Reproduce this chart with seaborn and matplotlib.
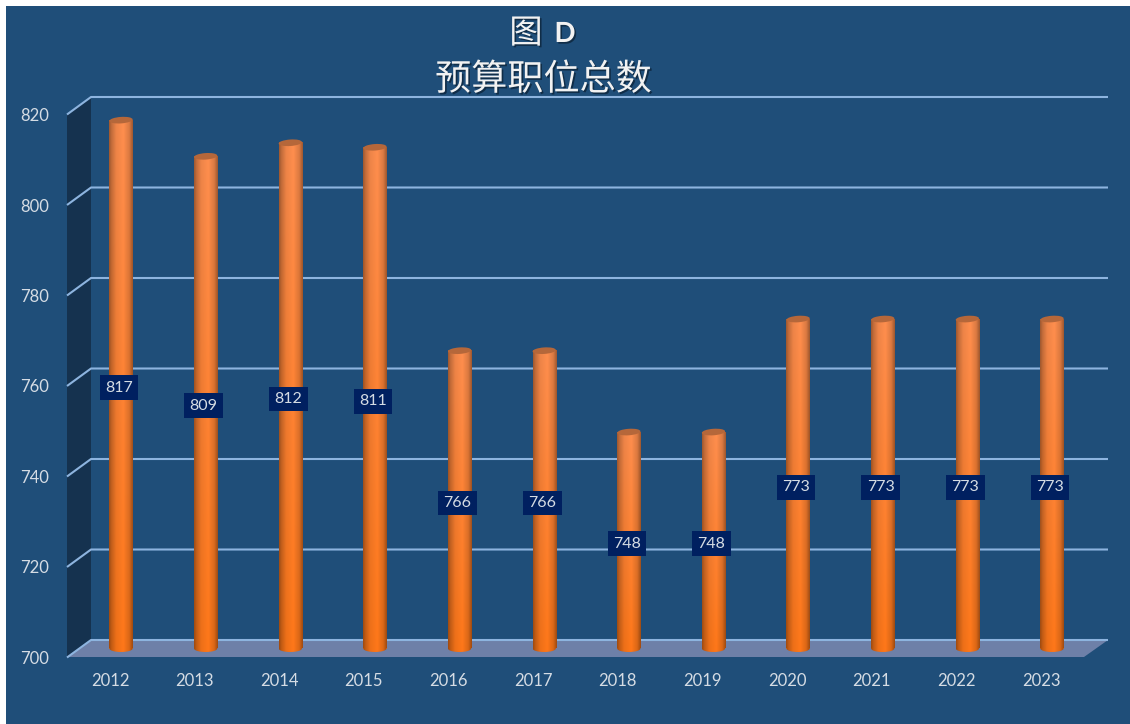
import numpy as np
import pandas as pd
import matplotlib
matplotlib.use('Agg')
import matplotlib.pyplot as plt
import matplotlib.patheffects as pe
from matplotlib.patches import Ellipse, Polygon, Rectangle
from matplotlib.transforms import IdentityTransform, ScaledTranslation
import seaborn as sns

years = ['2012', '2013', '2014', '2015', '2016', '2017', '2018', '2019', '2020', '2021', '2022', '2023']
posts = [817, 809, 812, 811, 766, 766, 748, 748, 773, 773, 773, 773]
y_ticks = [700, 720, 740, 760, 780, 800, 820]

W, H = 1130, 724
sns.set_theme(style='white')
plt.rcParams['font.family'] = ['Lato', 'Noto Sans CJK SC', 'DejaVu Sans']

bg = '#1F4E79'
grid_col = '#8DB4DF'
text_col = '#D5DCE4'

fig = plt.figure(figsize=(W / 100, H / 100), dpi=100, facecolor='white')

# backdrop in pixel coords: panel, side wall, floor, gridlines
back = fig.add_axes([0, 0, 1, 1])
back.set_xlim(0, W)
back.set_ylim(H, 0)
back.axis('off')
back.add_patch(Rectangle((6, 6), W - 6, H - 6, color=bg, lw=0))
back.add_patch(Polygon([(67, 115), (91, 97), (91, 640), (67, 657)], color='#15324F', lw=0))
back.add_patch(Polygon([(67, 657), (91, 640), (1108, 640), (1084, 657)], color='#6E80A8', lw=0))
for t in y_ticks:
    yb = 640 - (t - 700) * 4.525
    back.plot([67, 91, 1108], [yb + 17.5, yb, yb], color=grid_col, lw=1.5, solid_capstyle='butt')

# main axes: bars sit half way into the depth of the box
x0 = 121 - 42.3
x1 = 1052 + 42.3
y_base = 648.5
y_top = y_base - 120 * 4.52
ax = fig.add_axes([x0 / W, 1 - y_base / H, (x1 - x0) / W, (y_base - y_top) / H])
ax.patch.set_alpha(0)
df = pd.DataFrame({'year': years, 'posts': posts})
sns.barplot(data=df, x='year', y='posts', color='#F97A20', width=0.275, linewidth=0, ax=ax, zorder=3)
ax.set_ylim(700, 820)
ax.set_xlim(-0.5, 11.5)
ax.set_xlabel('')
ax.set_ylabel('')
sns.despine(ax=ax, left=True, bottom=True)
ax.tick_params(length=0)
ax.set_yticks(y_ticks)
ax.tick_params(axis='x', labelsize=12, labelcolor=text_col, pad=17.5)
ax.tick_params(axis='y', labelsize=12, labelcolor=text_col, pad=21.5)
for lab in ax.get_xticklabels():
    lab.set_transform(lab.get_transform() + ScaledTranslation(-0.11, 0, fig.dpi_scale_trans))
for lab in ax.get_yticklabels():
    lab.set_transform(lab.get_transform() + ScaledTranslation(0, -0.085, fig.dpi_scale_trans))

# cylinder shading
across = np.array([0.0, 0.1, 0.3, 0.6, 0.85, 1.0])
shade = np.array([0.62, 0.76, 0.93, 1.0, 0.86, 0.62])
low = np.array([1.0, 0.47, 0.1])
high = np.array([1.0, 0.56, 0.31])
px_per_unit = (y_base - y_top) / 120
u = np.interp(np.linspace(0, 1, 60), across, shade)[None, :, None]
for bar, val in zip(ax.containers[0], posts):
    bx, bw = bar.get_x(), bar.get_width()
    # fade runs from the foot of the bar up to its top
    t = np.linspace(1, 0, 200)[:, None, None]
    img = np.clip((low + (high - low) * t) * u, 0, 1)
    im = ax.imshow(img, extent=(bx, bx + bw, 700, val), aspect='auto', zorder=4, interpolation='bilinear')
    im.set_clip_path(bar)
    # rounded foot, same shading as the bar
    foot = Ellipse((bx + bw / 2, 700), bw, 7 / px_per_unit, fc='none', lw=0, clip_on=False)
    ax.add_patch(foot)
    im2 = ax.imshow(np.clip(low[None, None, :] * u, 0, 1), extent=(bx, bx + bw, 695, 705), aspect='auto',
                    zorder=4, interpolation='bilinear')
    im2.set_clip_path(foot)
    im2.set_clip_box(fig.bbox)
    ax.annotate(str(val), (bx + bw / 2, (700 + val) / 2), xytext=(-1.4, -2.6), textcoords='offset points',
                ha='center', va='center', color=text_col, fontsize=11.5, zorder=6,
                bbox=dict(boxstyle='square,pad=0.34', fc='#002060', ec='none'))
ax.set_xlim(-0.5, 11.5)
ax.set_ylim(700, 820)

# tilted caps are placed in pixels once the limits are final
for bar, val in zip(ax.containers[0], posts):
    bx, bw = bar.get_x(), bar.get_width()
    cx, cy = ax.transData.transform((bx + bw / 2, val))
    ax.add_patch(Ellipse((cx, cy - 0.5), bw * (x1 - x0) / 12, 6.5, angle=4, fc='#B5673A', lw=0,
                         zorder=5, clip_on=False, transform=IdentityTransform()))

# title
shadow = [pe.withSimplePatchShadow(offset=(1.2, -1.2), shadow_rgbFace='#0B1F33', alpha=0.7)]
fig.text(526 / W, 1 - 34 / H, '图', color='#F2F2F2', fontsize=24, ha='center', va='center', path_effects=shadow)
fig.text(565 / W, 1 - 34 / H, 'D', color='#F2F2F2', fontsize=20, ha='center', va='center',
         fontweight='bold', path_effects=shadow)
fig.text(543.5 / W, 1 - 79 / H, '预算职位总数', color='#F2F2F2', fontsize=26, ha='center', va='center',
         path_effects=shadow)

fig.savefig('out.png', dpi=100, facecolor='white')
